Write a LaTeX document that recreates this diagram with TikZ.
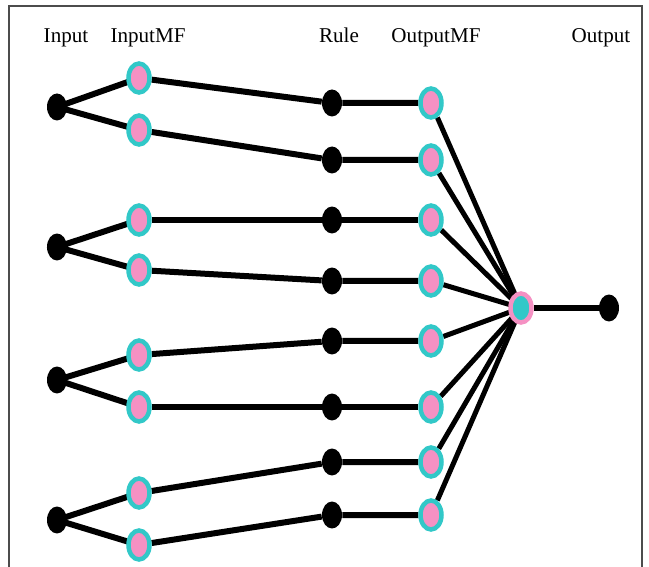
\documentclass[tikz,border=0pt]{standalone}
\usepackage{fontspec}
\setmainfont{Liberation Serif}
\usetikzlibrary{positioning}
\usetikzlibrary{shapes.geometric}
\usetikzlibrary{backgrounds}
\definecolor{mfpink}{RGB}{245,145,195}
\definecolor{mfcyan}{RGB}{50,200,200}
\tikzset{
	dotnode/.style = {ellipse, fill=black, minimum width=0.4cm, minimum height=0.54cm, inner sep=0pt},
	mfnode/.style = {ellipse, fill=mfpink, draw=mfcyan, line width=0.09cm, minimum width=0.42cm, minimum height=0.58cm, inner sep=0pt},
	outmfnode/.style = {ellipse, fill=mfcyan, draw=mfpink, line width=0.09cm, minimum width=0.42cm, minimum height=0.58cm, inner sep=0pt},
	link/.style = {line width=0.12cm},
	fan/.style = {line width=0.1cm},
	layer/.style = {font=\fontsize{12}{14}\selectfont, anchor=base, inner sep=0pt}
}

\begin{document}
\begin{tikzpicture}[x=0.02cm,y=-0.02cm]
		\useasboundingbox (0,0) rectangle (649,567);
		\draw[black!70, line width=0.03cm] (9,567) -- (9,6) -- (642,6) -- (642,567);
		% layer titles
		\node[layer] at (66,43) (tin) {Input};
		\node[layer] at (148,43) (tinmf) {InputMF};
		\node[layer] at (339,43) (trule) {Rule};
		\node[layer] at (436,43) (toutmf) {OutputMF};
		\node[layer] at (601,43) (tout) {Output};
		% inputs
		\node[dotnode] at (57,107) (in1) {};
		\node[dotnode] at (57,247) (in2) {};
		\node[dotnode] at (57,380) (in3) {};
		\node[dotnode] at (57,520) (in4) {};
		% input membership functions
		\node[mfnode] at (139,78) (imf1) {};
		\node[mfnode] at (139,130) (imf2) {};
		\node[mfnode] at (139,220) (imf3) {};
		\node[mfnode] at (139,270) (imf4) {};
		\node[mfnode] at (139,355) (imf5) {};
		\node[mfnode] at (139,407) (imf6) {};
		\node[mfnode] at (139,493) (imf7) {};
		\node[mfnode] at (139,545) (imf8) {};
		% rules
		\node[dotnode] at (332,103) (r1) {};
		\node[dotnode] at (332,160) (r2) {};
		\node[dotnode] at (332,220) (r3) {};
		\node[dotnode] at (332,281) (r4) {};
		\node[dotnode] at (332,341) (r5) {};
		\node[dotnode] at (332,407) (r6) {};
		\node[dotnode] at (332,462) (r7) {};
		\node[dotnode] at (332,515) (r8) {};
		% output membership functions
		\node[mfnode] at (431,103) (omf1) {};
		\node[mfnode] at (431,160) (omf2) {};
		\node[mfnode] at (431,220) (omf3) {};
		\node[mfnode] at (431,281) (omf4) {};
		\node[mfnode] at (431,341) (omf5) {};
		\node[mfnode] at (431,407) (omf6) {};
		\node[mfnode] at (431,462) (omf7) {};
		\node[mfnode] at (431,515) (omf8) {};
		% aggregation and output
		\node[outmfnode] at (521,308) (agg) {};
		\node[dotnode] at (609,308) (out) {};
		\begin{scope}[on background layer]
			\draw[link] (imf1.center) -- (in1.center) -- (imf2.center);
			\draw[link] (imf3.center) -- (in2.center) -- (imf4.center);
			\draw[link] (imf5.center) -- (in3.center) -- (imf6.center);
			\draw[link] (imf7.center) -- (in4.center) -- (imf8.center);
			\draw[link] (imf1) -- (r1) -- (omf1);
			\draw[link] (imf2) -- (r2) -- (omf2);
			\draw[link] (imf3) -- (r3) -- (omf3);
			\draw[link] (imf4) -- (r4) -- (omf4);
			\draw[link] (imf5) -- (r5) -- (omf5);
			\draw[link] (imf6) -- (r6) -- (omf6);
			\draw[link] (imf7) -- (r7) -- (omf7);
			\draw[link] (imf8) -- (r8) -- (omf8);
			\draw[fan] (omf1) -- (agg.center);
			\draw[fan] (omf2) -- (agg.center);
			\draw[fan] (omf3) -- (agg.center);
			\draw[fan] (omf4) -- (agg.center);
			\draw[fan] (omf5) -- (agg.center);
			\draw[fan] (omf6) -- (agg.center);
			\draw[fan] (omf7) -- (agg.center);
			\draw[fan] (omf8) -- (agg.center);
			\draw[link] (agg) -- (out);
		\end{scope}
	\end{tikzpicture}
\end{document}
